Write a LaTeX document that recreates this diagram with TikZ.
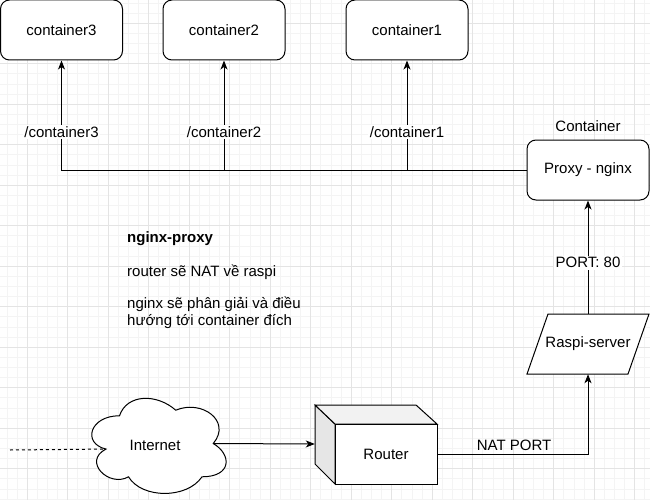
\documentclass[tikz,border=0pt]{standalone}
\usepackage{fontspec}
\setmainfont{Liberation Sans}
\usetikzlibrary{arrows.meta}

\definecolor{gridmajor}{HTML}{E4E4E4}
\definecolor{gridminor}{HTML}{F4F4F4}
\definecolor{cubeside}{HTML}{E6E6E6}
\definecolor{cubetop}{HTML}{F2F2F2}

\tikzset{
    box/.style={draw, fill=white, line width=1pt, rounded corners=9pt, minimum width=122pt, minimum height=60pt},
    wire/.style={line width=1pt},
    link/.style={wire, -{Stealth[length=9pt, width=7pt, inset=2.5pt]}},
    lbl/.style={fill=white, inner sep=1.5pt},
    note/.style={anchor=west, align=left, inner sep=0pt}
}

\begin{document}
\begin{tikzpicture}[x=1pt, y=-1pt, font=\fontsize{15}{18}\selectfont]
    \useasboundingbox (0,0) rectangle (650,500);

    % background grid
    \foreach \k in {0,...,63}
        \draw[gridminor] ({6.75+\k*10.125},0) -- ({6.75+\k*10.125},500);
    \foreach \k in {0,...,49}
        \draw[gridminor] (0,{2.75+\k*10.125}) -- (650,{2.75+\k*10.125});
    \foreach \k in {0,...,15}
        \draw[gridmajor] ({27+\k*40.5},0) -- ({27+\k*40.5},500);
    \foreach \k in {0,...,11}
        \draw[gridmajor] (0,{23+\k*40.5}) -- (650,{23+\k*40.5});

    % proxy and the containers behind it
    \node[box] (proxy) at (588,170) {Proxy - nginx};
    \node (containerlbl) at (588,126) {Container};

    \foreach \n/\x in {3/61.5, 2/224, 1/407} {
        \node[box] (c\n) at (\x,30) {container\n};
        \draw[link] (proxy.west) -| node[lbl, pos=0.673] {/container\n} (c\n.south);
    }

    % raspberry pi
    \draw[wire, fill=white] (548,314) -- (649,314) -- (628,374) -- (527,374) -- cycle;
    \node[minimum width=101pt, minimum height=60pt] (raspi) at (588,344) {Raspi-server};
    \draw[link] (raspi.north) -- node[lbl, pos=0.45] {PORT: 80} (proxy.south);

    % router (cube)
    \draw[wire, fill=cubeside] (315,405) -- (335,424) -- (335,484) -- (315,464) -- cycle;
    \draw[wire, fill=cubetop] (315,405) -- (416,405) -- (437,424) -- (335,424) -- cycle;
    \draw[wire, fill=white] (335,424) rectangle (437,484);
    \node[minimum width=102pt, minimum height=60pt] (router) at (386,454) {Router};
    \draw[link] (router.east) -| node[pos=0.255, above] {NAT PORT} (raspi.south);

    % internet cloud
    \begin{scope}[shift={(82,388)}, x=150pt, y=-111pt]
        \draw[wire, fill=white] (0.25,0.25) .. controls (0.05,0.25) and (0,0.5) .. (0.16,0.55)
            .. controls (0,0.66) and (0.18,0.9) .. (0.31,0.8)
            .. controls (0.4,1) and (0.7,1) .. (0.8,0.8)
            .. controls (1,0.8) and (1,0.6) .. (0.875,0.5)
            .. controls (1,0.3) and (0.8,0.1) .. (0.625,0.2)
            .. controls (0.5,0.05) and (0.3,0.05) .. (0.25,0.25) -- cycle;
        \coordinate (cloudin) at (0.16,0.55);
        \coordinate (cloudout) at (0.875,0.5);
        \node (internet) at (0.487,0.514) {Internet};
    \end{scope}
    \coordinate (wan) at (10,450);
    \draw[wire, dashed] (wan) -- (cloudin);
    \draw[link] (cloudout) -- ([xshift=-20pt, yshift=10pt]router.west);

    % notes
    \node[note, font=\fontsize{15}{18}\selectfont\bfseries] (title) at (127,239) {nginx-proxy};
    \node[note] (note1) at (127,272) {router sẽ NAT về raspi};
    \node[note, font=\fontsize{15}{17}\selectfont] (note2) at (127,312.5) {nginx sẽ phân giải và điều\\hướng tới container đích};
\end{tikzpicture}
\end{document}
